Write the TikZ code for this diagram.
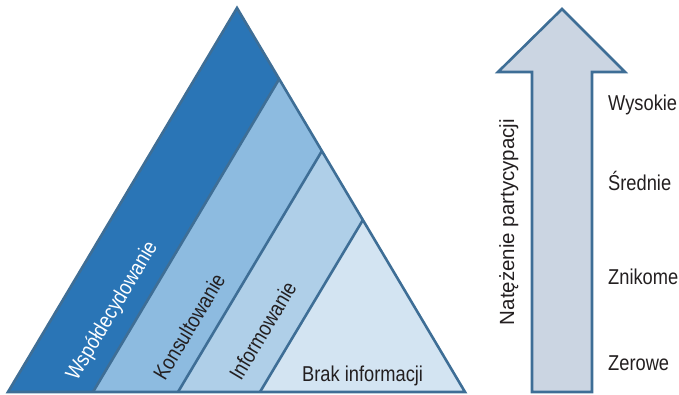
\documentclass[tikz,border=0pt]{standalone}
\usepackage{fontspec}
\setmainfont[FakeStretch=0.85]{Liberation Sans}
\newfontfamily\widefont{Liberation Sans}
\begin{document}
\begin{tikzpicture}[x=1pt,y=-1pt,
  edge/.style={draw=edgeblue,line width=2.6pt,line join=miter},
  lbl/.style={inner sep=0pt,font=\fontsize{21.5}{25}\selectfont,text=textdark},
  bandlbl/.style={lbl,rotate=59.2,anchor=base west}]
\definecolor{band1}{HTML}{2A75B6}
\definecolor{band2}{HTML}{8DBBE0}
\definecolor{band3}{HTML}{AFCFE8}
\definecolor{band4}{HTML}{D3E4F2}
\definecolor{edgeblue}{HTML}{3E6E96}
\definecolor{arrowfill}{HTML}{CBD5E2}
\definecolor{textdark}{HTML}{231F20}
\useasboundingbox (0,0) rectangle (679,395);
% triangle points
\coordinate (A) at (8,392);
\coordinate (T) at (237,8);
\coordinate (R) at (465,392);
\coordinate (d1b) at (93,392);
\coordinate (d1t) at (279.2,79);
\coordinate (d2b) at (178,392);
\coordinate (d2t) at (321.9,151);
\coordinate (d3b) at (260,392);
\coordinate (d3t) at (362.9,220);
% bands
\fill[band1] (A) -- (T) -- (d1t) -- (d1b) -- cycle;
\fill[band2] (d1b) -- (d1t) -- (d2t) -- (d2b) -- cycle;
\fill[band3] (d2b) -- (d2t) -- (d3t) -- (d3b) -- cycle;
\fill[band4] (d3b) -- (d3t) -- (R) -- cycle;
\draw[edge] (d1b) -- (d1t);
\draw[edge] (d2b) -- (d2t);
\draw[edge] (d3b) -- (d3t);
\draw[edge] (A) -- (T) -- (R) -- cycle;
% band labels
\node[bandlbl,text=white] (l1) at (77,382) {Współdecydowanie};
\node[bandlbl] (l2) at (165,382) {Konsultowanie};
\node[bandlbl] (l3) at (241,382) {Informowanie};
\node[lbl,anchor=base west] (l4) at (302,381) {Brak informacji};
% arrow
\draw[edge,fill=arrowfill] (562,9) -- (625,72) -- (592,72) -- (592,392) -- (532,392) -- (532,72) -- (498,72) -- cycle;
\node[lbl,font=\widefont\fontsize{20.5}{24}\selectfont,rotate=90,anchor=base] (ax) at (514,222) {Natężenie partycypacji};
% level labels
\node[lbl,anchor=base west] (w1) at (608,111) {Wysokie};
\node[lbl,anchor=base west] (w2) at (608,191) {Średnie};
\node[lbl,anchor=base west] (w3) at (608,284) {Znikome};
\node[lbl,anchor=base west] (w4) at (608,370) {Zerowe};
\end{tikzpicture}
\end{document}
